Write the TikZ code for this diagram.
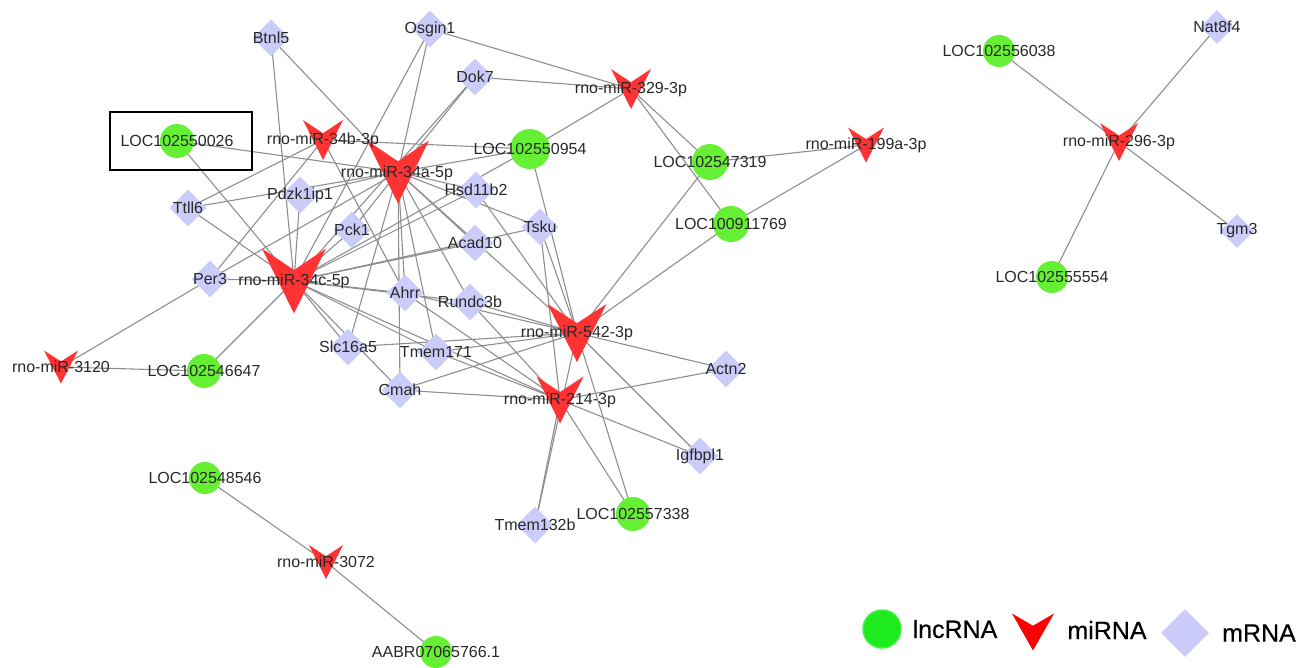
\documentclass[tikz,border=0pt]{standalone}
\usepackage{fontspec}
\setmainfont{Liberation Sans}
\newfontfamily\legfont{Liberation Sans}[FakeBold=0.5]
\usetikzlibrary{shapes.geometric,backgrounds,calc}
\definecolor{lncg}{RGB}{102,240,51}
\definecolor{lncleg}{RGB}{30,235,30}
\definecolor{lnclegb}{RGB}{70,240,70}
\definecolor{mirc}{RGB}{255,51,51}
\definecolor{mirleg}{RGB}{255,0,0}
\definecolor{mrnac}{RGB}{204,204,250}
\definecolor{edgec}{RGB}{142,142,142}
\definecolor{labc}{RGB}{40,40,40}
\tikzset{
  lnc/.style={circle,fill=lncg,inner sep=0pt,minimum size=#1},
  mrna/.style={diamond,fill=mrnac,inner sep=0pt,minimum size=#1},
  mir/.style n args={3}{rectangle,inner sep=0pt,minimum width=#1,minimum height=#2,
    path picture={\fill[#3] (path picture bounding box.north west)
      -- ($(path picture bounding box.north)!0.33!(path picture bounding box.south)$)
      -- (path picture bounding box.north east)
      -- (path picture bounding box.south) -- cycle;}},
  lab/.style={font=\fontsize{16pt}{19pt}\selectfont,text=labc,inner sep=0pt},
  legtext/.style={font=\legfont\fontsize{25pt}{30pt}\selectfont,text=black,inner sep=0pt},
  link/.style={draw=edgec,line width=1.1pt},
}
\begin{document}
\begin{tikzpicture}[x=1pt,y=-1pt]
\useasboundingbox (0,0) rectangle (1298,667);
% lncRNA
\node[lnc=34pt] (L0026) at (177,141) {};
\node[lnc=40pt] (L0954) at (530,149) {};
\node[lnc=36pt] (L7319) at (710,162) {};
\node[lnc=36pt] (L1769) at (731,224) {};
\node[lnc=34pt] (L6647) at (204,371) {};
\node[lnc=32pt] (L8546) at (205,478) {};
\node[lnc=34pt] (L7338) at (633,514) {};
\node[lnc=32pt] (AABR) at (436,652) {};
\node[lnc=32pt] (L6038) at (999,51) {};
\node[lnc=32pt] (L5554) at (1052,277) {};
% miRNA
\node[mir={40pt}{40pt}{mirc}] (m34b) at (323,140) {};
\node[mir={62pt}{63pt}{mirc}] (m34a) at (398,172) {};
\node[mir={64pt}{65pt}{mirc}] (m34c) at (294,281) {};
\node[mir={40pt}{40pt}{mirc}] (m329) at (631,89) {};
\node[mir={36pt}{35pt}{mirc}] (m199) at (866,145) {};
\node[mir={38pt}{38pt}{mirc}] (m296) at (1119,142) {};
\node[mir={59pt}{58pt}{mirc}] (m542) at (577,333) {};
\node[mir={47pt}{47pt}{mirc}] (m214) at (560,400) {};
\node[mir={34pt}{33pt}{mirc}] (m3120) at (61,367) {};
\node[mir={34pt}{34pt}{mirc}] (m3072) at (326,562) {};
% mRNA
\node[mrna=37pt] (Btnl5) at (271,38) {};
\node[mrna=37pt] (Osgin1) at (430,29) {};
\node[mrna=37pt] (Dok7) at (475,77) {};
\node[mrna=37pt] (Pdzk) at (300,195) {};
\node[mrna=37pt] (Ttll6) at (188,208) {};
\node[mrna=37pt] (Hsd) at (476,190) {};
\node[mrna=37pt] (Pck1) at (352,230) {};
\node[mrna=37pt] (Tsku) at (540,227) {};
\node[mrna=37pt] (Acad10) at (475,243) {};
\node[mrna=37pt] (Per3) at (210,279) {};
\node[mrna=37pt] (Ahrr) at (405,293) {};
\node[mrna=37pt] (Rundc3b) at (470,302) {};
\node[mrna=37pt] (Slc) at (348,347) {};
\node[mrna=37pt] (Tmem171) at (436,352) {};
\node[mrna=37pt] (Cmah) at (400,390) {};
\node[mrna=37pt] (Actn2) at (726,369) {};
\node[mrna=37pt] (Igfbpl1) at (700,456) {};
\node[mrna=37pt] (Tmem132b) at (535,525) {};
\node[mrna=34pt] (Nat8f4) at (1217,27) {};
\node[mrna=34pt] (Tgm3) at (1237,231) {};
% edges
\begin{pgfonlayer}{background}
\foreach \a/\b in {m34b/L0954, m34b/Ttll6, m34b/Per3, m34b/Ahrr,
  m34a/L0026, m34a/Btnl5, m34a/Osgin1, m34a/Dok7, m34a/L0954, m34a/Pdzk, m34a/Ttll6,
  m34a/Per3, m34a/Pck1, m34a/Hsd, m34a/Acad10, m34a/Tsku, m34a/Ahrr, m34a/Cmah,
  m34a/Slc, m34a/Tmem171, m34a/Rundc3b, m34a/m542,
  m34c/L0026, m34c/Btnl5, m34c/Osgin1, m34c/Dok7, m34c/L0954, m34c/L6647, m34c/Per3,
  m34c/Ttll6, m34c/Pdzk, m34c/Pck1, m34c/Hsd, m34c/Acad10, m34c/Tsku, m34c/Ahrr,
  m34c/Rundc3b, m34c/Slc, m34c/Tmem171, m34c/Cmah, m34c/m214,
  m329/Osgin1, m329/Dok7, m329/L0954, m329/L7319, m329/L1769,
  m199/L7319, m199/L1769,
  m542/L0954, m542/L7319, m542/L1769, m542/L7338, m542/Hsd, m542/Tsku, m542/Ahrr,
  m542/Rundc3b, m542/Tmem171, m542/Slc, m542/Cmah, m542/Actn2, m542/Igfbpl1, m542/Tmem132b,
  m214/L7338, m214/Tsku, m214/Ahrr, m214/Rundc3b, m214/Tmem171, m214/Cmah, m214/Actn2,
  m214/Igfbpl1, m214/Tmem132b,
  m296/L6038, m296/L5554, m296/Nat8f4, m296/Tgm3,
  m3120/Per3, m3120/L6647,
  m3072/L8546, m3072/AABR}
  \draw[link] (\a.center) -- (\b.center);
\end{pgfonlayer}
% highlight box
\node[draw=black,line width=1.3pt,minimum width=142pt,minimum height=58pt,inner sep=0pt] (box) at (181,141) {};
% labels
\node[lab] (tL0026) at (L0026) {LOC102550026};
\node[lab] (tL0954) at (L0954) {LOC102550954};
\node[lab] (tL7319) at (L7319) {LOC102547319};
\node[lab] (tL1769) at (L1769) {LOC100911769};
\node[lab] (tL6647) at (L6647) {LOC102546647};
\node[lab] (tL8546) at (L8546) {LOC102548546};
\node[lab] (tL7338) at (L7338) {LOC102557338};
\node[lab] (tAABR) at (AABR) {AABR07065766.1};
\node[lab] (tL6038) at (L6038) {LOC102556038};
\node[lab] (tL5554) at (L5554) {LOC102555554};
\node[lab] (tm34b) at (m34b) {rno-miR-34b-3p};
\node[lab] (tm34a) at (397,173) {rno-miR-34a-5p};
\node[lab] (tm34c) at (m34c) {rno-miR-34c-5p};
\node[lab] (tm329) at (m329) {rno-miR-329-3p};
\node[lab] (tm199) at (m199) {rno-miR-199a-3p};
\node[lab] (tm296) at (m296) {rno-miR-296-3p};
\node[lab] (tm542) at (m542) {rno-miR-542-3p};
\node[lab] (tm214) at (m214) {rno-miR-214-3p};
\node[lab] (tm3120) at (m3120) {rno-miR-3120};
\node[lab] (tm3072) at (m3072) {rno-miR-3072};
\node[lab] (tBtnl5) at (Btnl5) {Btnl5};
\node[lab] (tOsgin1) at (Osgin1) {Osgin1};
\node[lab] (tDok7) at (Dok7) {Dok7};
\node[lab] (tPdzk) at (Pdzk) {Pdzk1ip1};
\node[lab] (tTtll6) at (Ttll6) {Ttll6};
\node[lab] (tHsd) at (Hsd) {Hsd11b2};
\node[lab] (tPck1) at (Pck1) {Pck1};
\node[lab] (tTsku) at (Tsku) {Tsku};
\node[lab] (tAcad10) at (Acad10) {Acad10};
\node[lab] (tPer3) at (Per3) {Per3};
\node[lab] (tAhrr) at (Ahrr) {Ahrr};
\node[lab] (tRundc3b) at (Rundc3b) {Rundc3b};
\node[lab] (tSlc) at (Slc) {Slc16a5};
\node[lab] (tTmem171) at (Tmem171) {Tmem171};
\node[lab] (tCmah) at (Cmah) {Cmah};
\node[lab] (tActn2) at (Actn2) {Actn2};
\node[lab] (tIgfbpl1) at (Igfbpl1) {Igfbpl1};
\node[lab] (tTmem132b) at (Tmem132b) {Tmem132b};
\node[lab] (tNat8f4) at (Nat8f4) {Nat8f4};
\node[lab] (tTgm3) at (Tgm3) {Tgm3};
% legend
\node[circle,fill=lncleg,draw=lnclegb,line width=1.5pt,minimum size=38pt,inner sep=0pt] (legL) at (882,629) {};
\node[legtext] (legLt) at (955,629) {lncRNA};
\node[mir={42pt}{37pt}{mirleg}] (legM) at (1033,632) {};
\node[legtext] (legMt) at (1107,630) {miRNA};
\node[mrna=48pt] (legR) at (1185,633) {};
\node[legtext] (legRt) at (1259,633) {mRNA};
\end{tikzpicture}
\end{document}
